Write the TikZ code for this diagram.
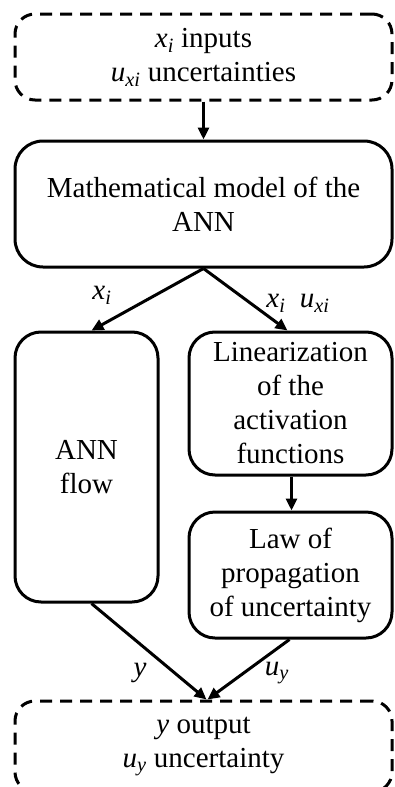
\documentclass[tikz,border=0pt]{standalone}
\usepackage{fontspec}
\setmainfont{Liberation Serif}
\usetikzlibrary{arrows.meta}
% italic symbol with italic subscript
\newcommand\isub[2]{\textit{#1}\textsubscript{\textit{#2}}}
\tikzset{
  box/.style={draw, line width=3pt, rounded corners=26pt, align=center,
    inner sep=0pt, font=\fontsize{29}{34}\selectfont},
  ioblock/.style={box, dash pattern=on 12pt off 8pt, rounded corners=20pt},
  flow/.style={line width=3pt, -{Triangle[length=12pt,width=11pt]}},
  lbl/.style={font=\fontsize{29}{34}\selectfont, inner sep=0pt}
}
\begin{document}
\begin{tikzpicture}[x=1pt,y=-1pt]
\useasboundingbox (0,0) rectangle (395,787);
\node[ioblock, minimum width=377pt, minimum height=86pt] (in) at (203.5,57)
  {\isub{x}{i} inputs\\ \isub{u}{xi} uncertainties};
\node[box, rounded corners=28pt, minimum width=377pt, minimum height=126pt] (model) at (203.5,204)
  {Mathematical model of the\\ ANN};
\node[box, minimum width=143pt, minimum height=270pt] (ann) at (86.5,467)
  {ANN\\ flow};
\node[box, minimum width=203pt, minimum height=143pt] (lin) at (290.5,403.5)
  {Linearization\\ of the\\ activation\\ functions};
\node[box, minimum width=203pt, minimum height=126pt] (law) at (290.5,575)
  {Law of\\ propagation\\ of uncertainty};
% output block; its lower edge runs just past the page
\node[ioblock, minimum width=377pt, minimum height=91pt] (out) at (203.5,746.5)
  {\textit{y} output\\ \isub{u}{y} uncertainty};

\draw[flow] (in.south) -- (model.north);
\draw[flow] (model.south) -- ([xshift=5pt]ann.north);
\draw[flow] (model.south) -- ([xshift=-3pt]lin.north);
\draw[flow] ([xshift=1pt]lin.south) -- ([xshift=1pt]law.north);
\draw[flow] ([xshift=5pt]ann.south) -- ([xshift=3pt]out.north);
\draw[flow] ([xshift=-1pt]law.south) -- ([xshift=4pt]out.north);

\node[lbl] (lxa) at (102,295) {\isub{x}{i}};
\node[lbl] (lxb) at (298,303) {\isub{x}{i}\ \ \isub{u}{xi}};
\node[lbl] (ly) at (140,673) {\textit{y}};
\node[lbl] (luy) at (277,673) {\isub{u}{y}};
\end{tikzpicture}
\end{document}
